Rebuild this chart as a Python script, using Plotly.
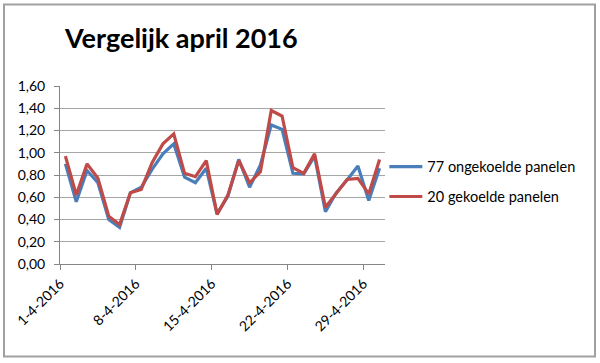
import pandas as pd
import plotly.graph_objects as go

dates = pd.date_range("2016-04-01 12:00", periods=30, freq="D")

ongekoeld = [0.90, 0.56, 0.84, 0.73, 0.40, 0.33, 0.64, 0.69, 0.85, 0.99,
             1.08, 0.78, 0.73, 0.86, 0.45, 0.61, 0.94, 0.69, 0.89, 1.25,
             1.21, 0.815, 0.81, 0.97, 0.47, 0.64, 0.755, 0.88, 0.57, 0.86]
gekoeld = [0.97, 0.62, 0.90, 0.77, 0.43, 0.355, 0.64, 0.67, 0.91, 1.08,
           1.17, 0.815, 0.785, 0.93, 0.445, 0.62, 0.93, 0.73, 0.83, 1.38,
           1.33, 0.865, 0.815, 0.99, 0.51, 0.64, 0.76, 0.77, 0.63, 0.94]

tick_dates = ["2016-04-01", "2016-04-08", "2016-04-15", "2016-04-22", "2016-04-29"]
tick_labels = ["1-4-2016", "8-4-2016", "15-4-2016", "22-4-2016", "29-4-2016"]

series_names = ["77 ongekoelde panelen", "20 gekoelde panelen"]
colors = ["#4A7EBB", "#BE4B48"]

fig = go.Figure()
for i, (name, vals, col) in enumerate(zip(series_names, [ongekoeld, gekoeld], colors)):
    fig.add_trace(go.Scatter(x=dates, y=vals, mode="lines", name=name,
                             legendgroup="g%d" % i,
                             line=dict(color=col, width=3.2)))

font_family = "Lato, Liberation Sans, Arial, sans-serif"

fig.update_layout(
    width=600, height=363,
    paper_bgcolor="white", plot_bgcolor="white",
    margin=dict(l=60, r=215, t=86, b=99),
    separators=",.",
    font=dict(family=font_family, size=14, color="#000000"),
    title=dict(text="<b>Vergelijk april 2016</b>", x=65/600, xanchor="left",
               y=1 - 39/363, yanchor="middle",
               font=dict(family=font_family, size=27, color="#000")),
    legend=dict(x=0.998, xanchor="left", y=(264 - 181.7) / 178, yanchor="middle",
                font=dict(size=14.5), traceorder="grouped", tracegroupgap=8,
                itemwidth=33, bgcolor="rgba(0,0,0,0)"),
    xaxis=dict(type="date", range=["2016-04-01", "2016-05-01"],
               tickmode="array", tickvals=tick_dates, ticktext=tick_labels,
               tickangle=-45, ticks="outside", ticklen=5, tickcolor="#868686",
               showline=True, linecolor="#868686", linewidth=1,
               showgrid=False, zeroline=False, tickfont=dict(size=14)),
    yaxis=dict(range=[0, 1.6], dtick=0.2, tick0=0, tickformat=".2f",
               ticks="outside", ticklen=5, tickcolor="#868686",
               showline=True, linecolor="#868686", linewidth=1,
               showgrid=True, gridcolor="#A6A6A6", gridwidth=1,
               zeroline=False, tickfont=dict(size=14), ticklabelstandoff=6),
    shapes=[dict(type="rect", xref="paper", yref="paper",
                 x0=(4 - 60) / 325, x1=(595 - 60) / 325,
                 y0=(264 - 356.5) / 178, y1=(264 - 4.5) / 178,
                 line=dict(color="#A0A0A0", width=2))],
)

fig.write_html("out.html", config={"displayModeBar": False},
               post_script="document.body.style.margin='0';")
